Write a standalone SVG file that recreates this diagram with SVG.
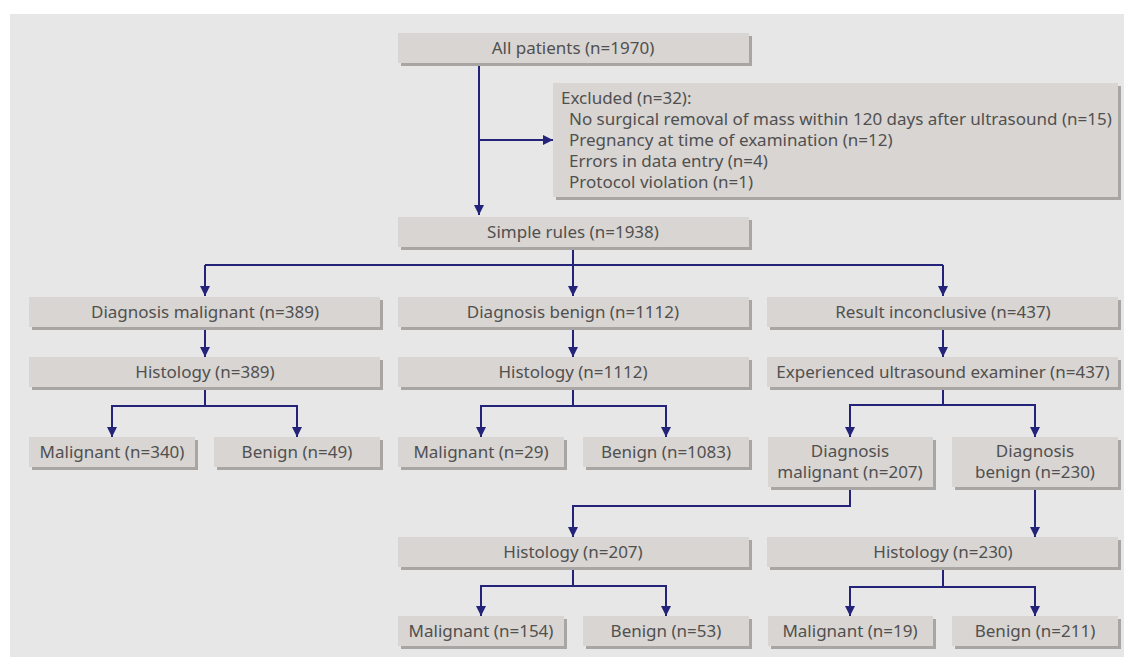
<svg xmlns="http://www.w3.org/2000/svg" width="1125" height="657" viewBox="0 0 1125 657">
<defs>
<marker id="ah" viewBox="0 0 10 12" refX="10" refY="6" markerWidth="10" markerHeight="12" markerUnits="userSpaceOnUse" orient="auto">
<path d="M0,1 L10,6 L0,11 Z" fill="#23237a"/>
</marker>
<style>
.sh{fill:#a9a5a2}
.bx{fill:#d9d5d2}
text{font-family:"Noto Sans","Open Sans",sans-serif;font-size:17px;fill:#505050}
.c{text-anchor:middle}
.ln{fill:none;stroke:#23237a;stroke-width:2}
</style>
</defs>
<rect x="10" y="14" width="1114" height="643" fill="#e7e7e7"/>
<g id="connectors">
<path class="ln" d="M479,63 V215" marker-end="url(#ah)"/>
<path class="ln" d="M479,140 H553" marker-end="url(#ah)"/>
<path class="ln" d="M573,247 V265"/>
<path class="ln" d="M205,265 H943"/>
<path class="ln" d="M205,265 V296" marker-end="url(#ah)"/>
<path class="ln" d="M573,265 V296" marker-end="url(#ah)"/>
<path class="ln" d="M943,265 V296" marker-end="url(#ah)"/>
<path class="ln" d="M205,327 V357" marker-end="url(#ah)"/>
<path class="ln" d="M573,327 V357" marker-end="url(#ah)"/>
<path class="ln" d="M943,327 V357" marker-end="url(#ah)"/>
<path class="ln" d="M205,387 V406 M112,406 H297"/>
<path class="ln" d="M112,405 V437" marker-end="url(#ah)"/>
<path class="ln" d="M297,405 V437" marker-end="url(#ah)"/>
<path class="ln" d="M573,387 V406 M481,406 H666"/>
<path class="ln" d="M481,405 V437" marker-end="url(#ah)"/>
<path class="ln" d="M666,405 V437" marker-end="url(#ah)"/>
<path class="ln" d="M943,387 V405 M850,405 H1035"/>
<path class="ln" d="M850,404 V437" marker-end="url(#ah)"/>
<path class="ln" d="M1035,404 V437" marker-end="url(#ah)"/>
<path class="ln" d="M850,487 V506 H573 V537" marker-end="url(#ah)"/>
<path class="ln" d="M1035,487 V537" marker-end="url(#ah)"/>
<path class="ln" d="M573,567 V586 M481,586 H666"/>
<path class="ln" d="M481,585 V616" marker-end="url(#ah)"/>
<path class="ln" d="M666,585 V616" marker-end="url(#ah)"/>
<path class="ln" d="M943,567 V587 M850,587 H1035"/>
<path class="ln" d="M850,586 V616" marker-end="url(#ah)"/>
<path class="ln" d="M1035,586 V616" marker-end="url(#ah)"/>
</g>
<g id="all"><rect class="sh" x="401" y="36" width="351" height="30"/><rect class="bx" x="398" y="33" width="351" height="30"/><text class="c" x="573" y="54">All patients (n=1970)</text></g>
<g id="excluded"><rect class="sh" x="556" y="86" width="565" height="114"/><rect class="bx" x="553" y="83" width="565" height="114"/>
<text x="561" y="104">Excluded (n=32):</text>
<text x="569" y="125">No surgical removal of mass within 120 days after ultrasound (n=15)</text>
<text x="569" y="146">Pregnancy at time of examination (n=12)</text>
<text x="569" y="167">Errors in data entry (n=4)</text>
<text x="569" y="188">Protocol violation (n=1)</text></g>
<g id="simple"><rect class="sh" x="401" y="220" width="351" height="30"/><rect class="bx" x="398" y="217" width="351" height="30"/><text class="c" x="573" y="238">Simple rules (n=1938)</text></g>
<g id="dmal"><rect class="sh" x="32" y="300" width="351" height="30"/><rect class="bx" x="29" y="297" width="351" height="30"/><text class="c" x="205" y="318">Diagnosis malignant (n=389)</text></g>
<g id="dben"><rect class="sh" x="401" y="300" width="351" height="30"/><rect class="bx" x="398" y="297" width="351" height="30"/><text class="c" x="573" y="318">Diagnosis benign (n=1112)</text></g>
<g id="incon"><rect class="sh" x="770" y="300" width="351" height="30"/><rect class="bx" x="767" y="297" width="351" height="30"/><text class="c" x="943" y="318">Result inconclusive (n=437)</text></g>
<g id="hist1"><rect class="sh" x="32" y="360" width="351" height="30"/><rect class="bx" x="29" y="357" width="351" height="30"/><text class="c" x="205" y="378">Histology (n=389)</text></g>
<g id="hist2"><rect class="sh" x="401" y="360" width="351" height="30"/><rect class="bx" x="398" y="357" width="351" height="30"/><text class="c" x="573" y="378">Histology (n=1112)</text></g>
<g id="exper"><rect class="sh" x="770" y="360" width="351" height="30"/><rect class="bx" x="767" y="357" width="351" height="30"/><text class="c" x="943" y="378">Experienced ultrasound examiner (n=437)</text></g>
<g id="m340"><rect class="sh" x="32" y="440" width="166" height="30"/><rect class="bx" x="29" y="437" width="166" height="30"/><text class="c" x="112" y="458">Malignant (n=340)</text></g>
<g id="b49"><rect class="sh" x="217" y="440" width="166" height="30"/><rect class="bx" x="214" y="437" width="166" height="30"/><text class="c" x="297" y="458">Benign (n=49)</text></g>
<g id="m29"><rect class="sh" x="401" y="440" width="166" height="30"/><rect class="bx" x="398" y="437" width="166" height="30"/><text class="c" x="481" y="458">Malignant (n=29)</text></g>
<g id="b1083"><rect class="sh" x="586" y="440" width="166" height="30"/><rect class="bx" x="583" y="437" width="166" height="30"/><text class="c" x="666" y="458">Benign (n=1083)</text></g>
<g id="dm207"><rect class="sh" x="771" y="440" width="165" height="50"/><rect class="bx" x="768" y="437" width="165" height="50"/><text class="c" x="850" y="457">Diagnosis</text><text class="c" x="850" y="478">malignant (n=207)</text></g>
<g id="db230"><rect class="sh" x="955" y="440" width="166" height="50"/><rect class="bx" x="952" y="437" width="166" height="50"/><text class="c" x="1035" y="457">Diagnosis</text><text class="c" x="1035" y="478">benign (n=230)</text></g>
<g id="hist207"><rect class="sh" x="401" y="540" width="351" height="30"/><rect class="bx" x="398" y="537" width="351" height="30"/><text class="c" x="573" y="558">Histology (n=207)</text></g>
<g id="hist230"><rect class="sh" x="770" y="540" width="351" height="30"/><rect class="bx" x="767" y="537" width="351" height="30"/><text class="c" x="943" y="558">Histology (n=230)</text></g>
<g id="m154"><rect class="sh" x="401" y="619" width="166" height="30"/><rect class="bx" x="398" y="616" width="166" height="30"/><text class="c" x="481" y="637">Malignant (n=154)</text></g>
<g id="b53"><rect class="sh" x="586" y="619" width="166" height="30"/><rect class="bx" x="583" y="616" width="166" height="30"/><text class="c" x="666" y="637">Benign (n=53)</text></g>
<g id="m19"><rect class="sh" x="771" y="619" width="165" height="30"/><rect class="bx" x="768" y="616" width="165" height="30"/><text class="c" x="850" y="637">Malignant (n=19)</text></g>
<g id="b211"><rect class="sh" x="955" y="619" width="166" height="30"/><rect class="bx" x="952" y="616" width="166" height="30"/><text class="c" x="1035" y="637">Benign (n=211)</text></g>
</svg>
